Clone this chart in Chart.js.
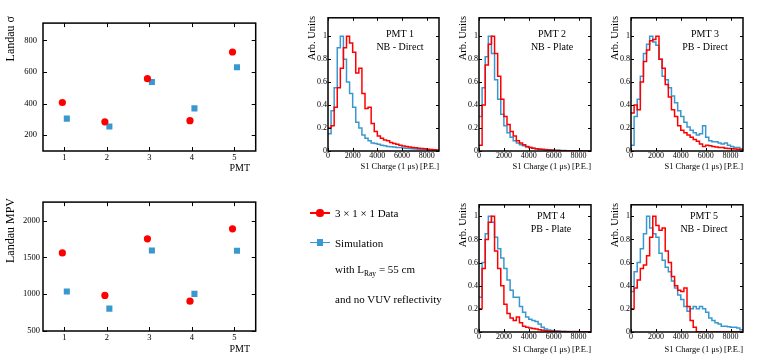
<!DOCTYPE html>
<html>
<head>
<meta charset="utf-8">
<title>Landau fits and S1 charge spectra</title>
<script src="https://cdn.jsdelivr.net/npm/chart.js@4"></script>
<style>
    body {
        margin: 0;
        width: 762px;
        height: 360px;
        position: relative;
        overflow: hidden;
        background: #fff;
        color: #000;
        font-family: "Liberation Serif", "DejaVu Serif", serif;
    }
    canvas, .txt, .mark {
        position: absolute;
    }
    .txt {
        white-space: nowrap;
        line-height: 1;
    }
    .vert {
        writing-mode: vertical-rl;
        transform: rotate(180deg);
    }
</style>
</head>
<body>
<canvas id="sigmaChart"></canvas>
<canvas id="mpvChart"></canvas>
<canvas id="pmt1Chart"></canvas>
<canvas id="pmt2Chart"></canvas>
<canvas id="pmt3Chart"></canvas>
<canvas id="pmt4Chart"></canvas>
<canvas id="pmt5Chart"></canvas>

<script>
/* ================================
   Data
================================ */
const pmtIds = [1, 2, 3, 4, 5];
const sigmaData = [407, 285, 558, 292, 727];
const sigmaSim = [305, 255, 537, 370, 630];
const mpvData = [1560, 983, 1751, 905, 1887];
const mpvSim = [1036, 804, 1594, 1004, 1590];

const sigmaTicks = [200, 400, 600, 800];
const mpvTicks = [500, 1000, 1500, 2000];
const chargeTicks = [0, 2000, 4000, 6000, 8000];
const arbTicks = [0, 0.2, 0.4, 0.6, 0.8, 1];

const pmtNames = ["PMT 1", "PMT 2", "PMT 3", "PMT 4", "PMT 5"];
const pmtTypes = ["NB - Direct", "NB - Plate", "PB - Direct", "PB - Plate", "NB - Direct"];

// S1 charge spectra, 250 P.E. bins from 0 to 9000 (normalised to peak)
const BIN_W = 250;
const pmt1Data = [0.2, 0.22, 0.38, 0.55, 0.72, 0.9, 1.0, 0.94, 0.86, 0.68, 0.72, 0.5, 0.37, 0.38, 0.24, 0.17, 0.13, 0.11,
    0.095, 0.09, 0.075, 0.065, 0.058, 0.05, 0.043, 0.04, 0.035, 0.03, 0.028, 0.025, 0.022, 0.02, 0.015, 0.012, 0.01, 0.008];
const pmt1Sim = [0.15, 0.35, 0.55, 0.9, 1.0, 0.8, 0.6, 0.5, 0.38, 0.25, 0.2, 0.14, 0.11, 0.09, 0.07, 0.065, 0.058, 0.05,
    0.045, 0.04, 0.037, 0.034, 0.03, 0.03, 0.027, 0.025, 0.022, 0.02, 0.018, 0.015, 0.012, 0.012, 0.01, 0.008, 0.006, 0.005];
const pmt2Data = [0.05, 0.4, 0.75, 0.93, 1.0, 0.85, 0.65, 0.45, 0.3, 0.23, 0.17, 0.13, 0.09, 0.07, 0.055, 0.04, 0.03, 0.025,
    0.02, 0.015, 0.012, 0.01, 0.008, 0.006, 0.005, 0.004, 0.003, 0.003, 0.002, 0.002, 0.001, 0.001, 0.001, 0, 0, 0];
const pmt2Sim = [0.3, 0.55, 0.82, 1.0, 0.85, 0.62, 0.45, 0.32, 0.22, 0.16, 0.12, 0.09, 0.07, 0.055, 0.045, 0.035, 0.03, 0.025,
    0.02, 0.018, 0.015, 0.012, 0.01, 0.008, 0.007, 0.006, 0.005, 0.004, 0.003, 0.003, 0.002, 0.002, 0.002, 0.001, 0.001, 0.001];
const pmt3Data = [0.33, 0.4, 0.36, 0.6, 0.78, 0.88, 0.96, 0.97, 1.0, 0.8, 0.72, 0.58, 0.47, 0.36, 0.3, 0.22, 0.18, 0.16,
    0.14, 0.12, 0.1, 0.085, 0.06, 0.04, 0.05, 0.045, 0.04, 0.035, 0.03, 0.03, 0.025, 0.022, 0.02, 0.018, 0.015, 0.01];
const pmt3Sim = [0.05, 0.3, 0.45, 0.65, 0.85, 0.93, 1.0, 0.95, 0.92, 0.8, 0.65, 0.62, 0.55, 0.48, 0.42, 0.35, 0.3, 0.25,
    0.21, 0.18, 0.16, 0.14, 0.15, 0.22, 0.12, 0.09, 0.08, 0.08, 0.07, 0.06, 0.07, 0.05, 0.04, 0.03, 0.03, 0.02];
const pmt4Data = [0.2, 0.55, 0.8, 0.95, 1.0, 0.7, 0.55, 0.4, 0.24, 0.16, 0.12, 0.1, 0.13, 0.08, 0.05, 0.04, 0.035, 0.03,
    0.025, 0.02, 0.015, 0.01, 0.008, 0.006, 0.005, 0.004, 0.003, 0.003, 0.002, 0.002, 0.001, 0.001, 0, 0, 0, 0];
const pmt4Sim = [0.3, 0.6, 0.85, 1.0, 0.95, 0.82, 0.72, 0.64, 0.55, 0.45, 0.36, 0.3, 0.3, 0.22, 0.17, 0.13, 0.11, 0.1,
    0.09, 0.07, 0.04, 0.025, 0.018, 0.012, 0.01, 0.008, 0.007, 0.006, 0.005, 0.005, 0.004, 0.004, 0.003, 0.003, 0.002, 0.002];
const pmt5Data = [0.2, 0.38, 0.45, 0.55, 0.58, 0.66, 0.82, 1.0, 0.92, 0.88, 0.9, 0.7, 0.6, 0.48, 0.4, 0.36, 0.35, 0.38,
    0.22, 0.1, 0.04, 0, 0, 0, 0, 0, 0, 0, 0, 0, 0, 0, 0, 0, 0, 0];
const pmt5Sim = [0.35, 0.52, 0.6, 0.72, 0.85, 1.0, 0.9, 0.85, 0.82, 0.68, 0.62, 0.56, 0.52, 0.44, 0.38, 0.32, 0.28, 0.22,
    0.18, 0.2, 0.22, 0.2, 0.22, 0.2, 0.17, 0.12, 0.1, 0.08, 0.07, 0.05, 0.05, 0.045, 0.04, 0.04, 0.035, 0.02];

const histData = [pmt1Data, pmt2Data, pmt3Data, pmt4Data, pmt5Data];
const histSim = [pmt1Sim, pmt2Sim, pmt3Sim, pmt4Sim, pmt5Sim];

/* ================================
   Look & layout
================================ */
const RED = "#ff0000";
const BLUE = "#3a98d0";
const SERIF = "'Liberation Serif', 'DejaVu Serif', serif";
const AX_W = 40, AX_H = 16, PAD = 4;

const scatterRects = {
    sigma: { l: 43, t: 16, r: 256, b: 151 },
    mpv: { l: 43, t: 198, r: 256, b: 331 },
};
const histRects = [
    { l: 328, t: 16, r: 439, b: 151, ymax: 1.16 },
    { l: 479, t: 16, r: 591, b: 151, ymax: 1.16 },
    { l: 631, t: 16, r: 743, b: 151, ymax: 1.16 },
    { l: 479, t: 203, r: 591, b: 332, ymax: 1.1 },
    { l: 631, t: 203, r: 743, b: 332, ymax: 1.1 },
];
const histLabelX = [400, 552, 705, 551, 704];

/* ================================
   ROOT-like frame with inward ticks
================================ */
const frameTicks = {
    id: "frameTicks",
    afterDraw(chart, args, opts) {
        const { ctx, chartArea: a, scales } = chart;
        const len = opts.len || 4;
        ctx.save();
        ctx.strokeStyle = "#000";
        ctx.lineWidth = 1;
        ctx.beginPath();
        scales.x.ticks.forEach(function (t) {
            const px = Math.round(scales.x.getPixelForValue(t.value)) + 0.5;
            ctx.moveTo(px, a.bottom);
            ctx.lineTo(px, a.bottom - len);
            ctx.moveTo(px, a.top);
            ctx.lineTo(px, a.top + len);
        });
        scales.y.ticks.forEach(function (t) {
            const py = Math.round(scales.y.getPixelForValue(t.value)) + 0.5;
            ctx.moveTo(a.left, py);
            ctx.lineTo(a.left + len, py);
            ctx.moveTo(a.right, py);
            ctx.lineTo(a.right - len, py);
        });
        ctx.stroke();
        ctx.lineWidth = 1.5;
        ctx.strokeRect(a.left, a.top, a.right - a.left, a.bottom - a.top);
        ctx.restore();
    },
};

function placeCanvas(id, rect) {
    const c = document.getElementById(id);
    const w = AX_W + (rect.r - rect.l) + PAD;
    const h = PAD + (rect.b - rect.t) + AX_H;
    c.width = w;
    c.height = h;
    c.style.left = (rect.l - AX_W) + "px";
    c.style.top = (rect.t - PAD) + "px";
    c.style.width = w + "px";
    c.style.height = h + "px";
    return c;
}

function makeAxis(min, max, ticks, size, pad, isX) {
    return {
        type: "linear",
        min: min,
        max: max,
        grid: { display: false, drawTicks: false },
        border: { display: false },
        afterBuildTicks: function (axis) {
            axis.ticks = ticks.map(function (v) { return { value: v }; });
        },
        afterFit: function (axis) {
            if (isX) axis.height = AX_H;
            else axis.width = AX_W;
        },
        ticks: {
            color: "#000",
            font: { family: SERIF, size: size },
            padding: pad,
            maxRotation: 0,
            autoSkip: false,
            callback: function (v) { return String(v); },
        },
    };
}

function baseOptions(xAxis, yAxis, tickLen) {
    return {
        responsive: false,
        animation: false,
        events: [],
        layout: { padding: { top: PAD, right: PAD, left: 0, bottom: 0 } },
        plugins: {
            legend: { display: false },
            tooltip: { enabled: false },
            frameTicks: { len: tickLen },
        },
        scales: { x: xAxis, y: yAxis },
    };
}

/* ================================
   Landau fit parameter panels
================================ */
function loadScatter(id, rect, dataVals, simVals, ymin, ymax, ticks, ypad) {
    new Chart(placeCanvas(id, rect), {
        type: "scatter",
        data: {
            datasets: [{
                label: "3 × 1 × 1 Data",
                data: pmtIds.map(function (p, i) { return { x: p - 0.045, y: dataVals[i] }; }),
                pointStyle: "circle",
                pointRadius: 3.6,
                backgroundColor: RED,
                borderWidth: 0,
            }, {
                label: "Simulation",
                data: pmtIds.map(function (p, i) { return { x: p + 0.06, y: simVals[i] }; }),
                pointStyle: "rect",
                pointRadius: 4.3,
                backgroundColor: BLUE,
                borderWidth: 0,
            }],
        },
        options: baseOptions(
            makeAxis(0.5, 5.5, pmtIds, 8.5, 1.5, true),
            makeAxis(ymin, ymax, ticks, 8.5, ypad, false),
            4
        ),
        plugins: [frameTicks],
    });
}

/* ================================
   S1 charge spectra
================================ */
function histPoints(vals) {
    const pts = vals.map(function (v, i) { return { x: i * BIN_W, y: v }; });
    pts.push({ x: vals.length * BIN_W, y: vals[vals.length - 1] });
    return pts;
}

function loadHist(i) {
    const rect = histRects[i];
    new Chart(placeCanvas("pmt" + (i + 1) + "Chart", rect), {
        type: "line",
        data: {
            datasets: [{
                label: "Data",
                data: histPoints(histData[i]),
                borderColor: RED,
                borderWidth: 1.5,
                pointRadius: 0,
                stepped: true,
                fill: false,
            }, {
                label: "Simulation",
                data: histPoints(histSim[i]),
                borderColor: BLUE,
                borderWidth: 1.5,
                pointRadius: 0,
                stepped: true,
                fill: false,
            }],
        },
        options: baseOptions(
            makeAxis(0, 9000, chargeTicks, 8, 0.5, true),
            makeAxis(0, rect.ymax, arbTicks, 8, 1, false),
            3
        ),
        plugins: [frameTicks],
    });
}

/* ================================
   Text overlays
================================ */
function addText(html, x, y, size, align) {
    const d = document.createElement("div");
    d.className = "txt";
    d.innerHTML = html;
    d.style.fontSize = size + "px";
    d.style.left = x + "px";
    d.style.top = y + "px";
    const tx = align === "r" ? "-100%" : (align === "l" ? "0" : "-50%");
    d.style.transform = "translate(" + tx + ", -50%)";
    document.body.appendChild(d);
    return d;
}

function addVertical(text, cx, top, size) {
    const d = document.createElement("div");
    d.className = "txt vert";
    d.textContent = text;
    d.style.fontSize = size + "px";
    d.style.left = (cx - size / 2) + "px";
    d.style.top = top + "px";
    document.body.appendChild(d);
}

function addMark(cx, cy, color, round) {
    const line = document.createElement("div");
    line.className = "mark";
    line.style.left = (cx - 10) + "px";
    line.style.top = (cy - 0.75) + "px";
    line.style.width = "20px";
    line.style.height = "1.5px";
    line.style.background = color;
    document.body.appendChild(line);
    const m = document.createElement("div");
    const s = round ? 7.2 : 6.2;
    m.className = "mark";
    m.style.left = (cx - s / 2) + "px";
    m.style.top = (cy - s / 2) + "px";
    m.style.width = s + "px";
    m.style.height = s + "px";
    m.style.background = color;
    if (round) m.style.borderRadius = "50%";
    document.body.appendChild(m);
}

loadScatter("sigmaChart", scatterRects.sigma, sigmaData, sigmaSim, 100, 910, sigmaTicks, 6);
loadScatter("mpvChart", scatterRects.mpv, mpvData, mpvSim, 500, 2250, mpvTicks, 3);
pmtIds.forEach(function (p, i) { loadHist(i); });

addVertical("Landau σ", 10, 16, 12);
addVertical("Landau MPV", 10, 198, 12);
addText("PMT", 250, 167.5, 10, "r");
addText("PMT", 250, 348.5, 10, "r");

histRects.forEach(function (r, i) {
    addVertical("Arb. Units", r.l - 15.5, r.t, 10.5);
    addText("S1 Charge (1 μs) [P.E.]", r.r, r.b + (r.t < 100 ? 15 : 16.5), 8.5, "r");
    const y0 = r.t < 100 ? 34 : 215.5;
    addText(pmtNames[i], histLabelX[i], y0, 10, "c");
    addText(pmtTypes[i], histLabelX[i], y0 + 13, 10, "c");
});

addMark(320, 213, RED, true);
addText("3 × 1 × 1 Data", 335, 213, 11, "l");
addMark(320, 242.5, BLUE, false);
addText("Simulation", 335, 242.5, 11, "l");
addText("with L<span style='font-size:7.5px;position:relative;top:3px'>Ray</span> = 55 cm", 335, 269, 11, "l");
addText("and no VUV reflectivity", 335, 299, 11, "l");
</script>
</body>
</html>
